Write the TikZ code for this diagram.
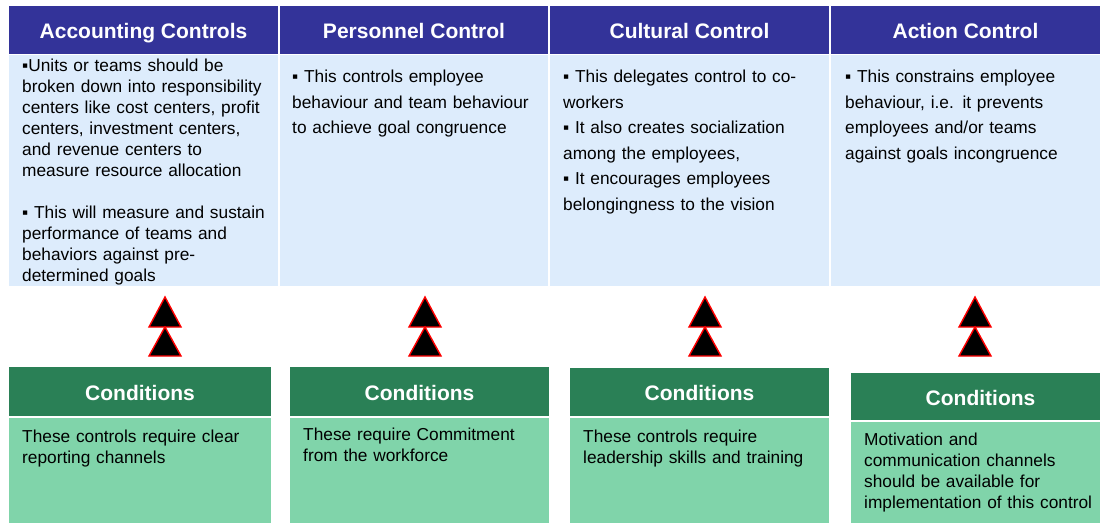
\documentclass[tikz,border=0pt]{standalone}
\usepackage{fontspec}
\setmainfont{Liberation Sans}
\usetikzlibrary{positioning}

\definecolor{headblue}{RGB}{51,51,153}
\definecolor{bodyblue}{RGB}{221,236,252}
\definecolor{headgreen}{RGB}{42,128,86}
\definecolor{bodygreen}{RGB}{128,212,170}

\tikzset{
    ctrlhead/.style={fill=headblue, text=white, inner sep=0pt, text height=19pt, text depth=2pt, font=\fontsize{21}{24}\selectfont\bfseries},
    ctrlbody/.style={fill=bodyblue, inner sep=0pt},
    condhead/.style={fill=headgreen, text=white, inner sep=0pt, text height=19pt, text depth=2pt, font=\fontsize{21}{24}\selectfont\bfseries},
    condbody/.style={fill=bodygreen, inner sep=0pt},
    bodytext/.style={anchor=base west, inner sep=0pt, align=left, text width=#1, font=\fontsize{17.3}{21}\selectfont},
    bodytext/.default=255pt,
    tri/.style={fill=black, draw=red, line width=1.4pt, line join=miter},
}

\begin{document}
\begin{tikzpicture}[x=1pt, y=-1pt]
    \useasboundingbox (0,0) rectangle (1102,524);

    % control headers and bodies
    \node[ctrlhead, minimum width=269pt, minimum height=48pt] (acch) at (143.5,30) {Accounting Controls};
    \node[ctrlbody, minimum width=269pt, minimum height=231pt] (accb) at (143.5,170.5) {};
    \node[ctrlhead, minimum width=268pt, minimum height=48pt] (perh) at (414,30) {Personnel Control};
    \node[ctrlbody, minimum width=268pt, minimum height=231pt] (perb) at (414,170.5) {};
    \node[ctrlhead, minimum width=279pt, minimum height=48pt] (culh) at (689.5,30) {Cultural Control};
    \node[ctrlbody, minimum width=279pt, minimum height=231pt] (culb) at (689.5,170.5) {};
    \node[ctrlhead, minimum width=269pt, minimum height=48pt] (acth) at (965.5,30) {Action Control};
    \node[ctrlbody, minimum width=269pt, minimum height=231pt] (actb) at (965.5,170.5) {};

    \node[bodytext] (acct) at (22,72) {%
        ▪Units or teams should be\\
        broken down into responsibility\\
        centers like cost centers, profit\\
        centers, investment centers,\\
        and revenue centers to\\
        measure resource allocation\\[21pt]
        ▪ This will measure and sustain\\
        performance of teams and\\
        behaviors against pre-\\
        determined goals};
    \node[bodytext, font=\fontsize{17.3}{25.5}\selectfont] (pert) at (292,83) {%
        ▪ This controls employee\\
        behaviour and team behaviour\\
        to achieve goal congruence};
    \node[bodytext, font=\fontsize{17.3}{25.5}\selectfont] (cult) at (563,83) {%
        ▪ This delegates control to co-\\
        workers\\
        ▪ It also creates socialization\\
        among the employees,\\
        ▪ It encourages employees\\
        belongingness to the vision};
    \node[bodytext, font=\fontsize{17.3}{25.5}\selectfont] (actt) at (845,83) {%
        ▪ This constrains employee\\
        behaviour, i.e. it prevents\\
        employees and/or teams\\
        against goals incongruence};

    % condition boxes
    \node[condhead, minimum width=262pt, minimum height=49pt] (c1h) at (140,391.5) {Conditions};
    \node[condbody, minimum width=262pt, minimum height=105pt] (c1b) at (140,470.5) {};
    \node[condhead, minimum width=259pt, minimum height=49pt] (c2h) at (419.5,391.5) {Conditions};
    \node[condbody, minimum width=259pt, minimum height=105pt] (c2b) at (419.5,470.5) {};
    \node[condhead, minimum width=259pt, minimum height=48pt] (c3h) at (699.5,392) {Conditions};
    \node[condbody, minimum width=259pt, minimum height=105pt] (c3b) at (699.5,470.5) {};
    \node[condhead, minimum width=249pt, minimum height=47pt] (c4h) at (975.5,396.5) {\hspace{10pt}Conditions};
    \node[condbody, minimum width=249pt, minimum height=101pt] (c4b) at (975.5,472.5) {};

    \node[bodytext] (c1t) at (22,442) {These controls require clear\\reporting channels};
    \node[bodytext] (c2t) at (303,440) {These require Commitment\\from the workforce};
    \node[bodytext] (c3t) at (583,442) {These controls require\\leadership skills and training};
    \node[bodytext] (c4t) at (864,445) {Motivation and\\communication channels\\should be available for\\implementation of this control};

    % double triangles between conditions and controls
    \foreach \n/\x in {1/165, 2/425, 3/705, 4/975} {
        \coordinate (up\n) at (\x,297);
        \draw[tri] (up\n) -- ++(16,30) -- ++(-32,0) -- cycle;
        \draw[tri] ([yshift=-30pt]up\n) -- ++(16,29) -- ++(-32,0) -- cycle;
    }
\end{tikzpicture}
\end{document}
